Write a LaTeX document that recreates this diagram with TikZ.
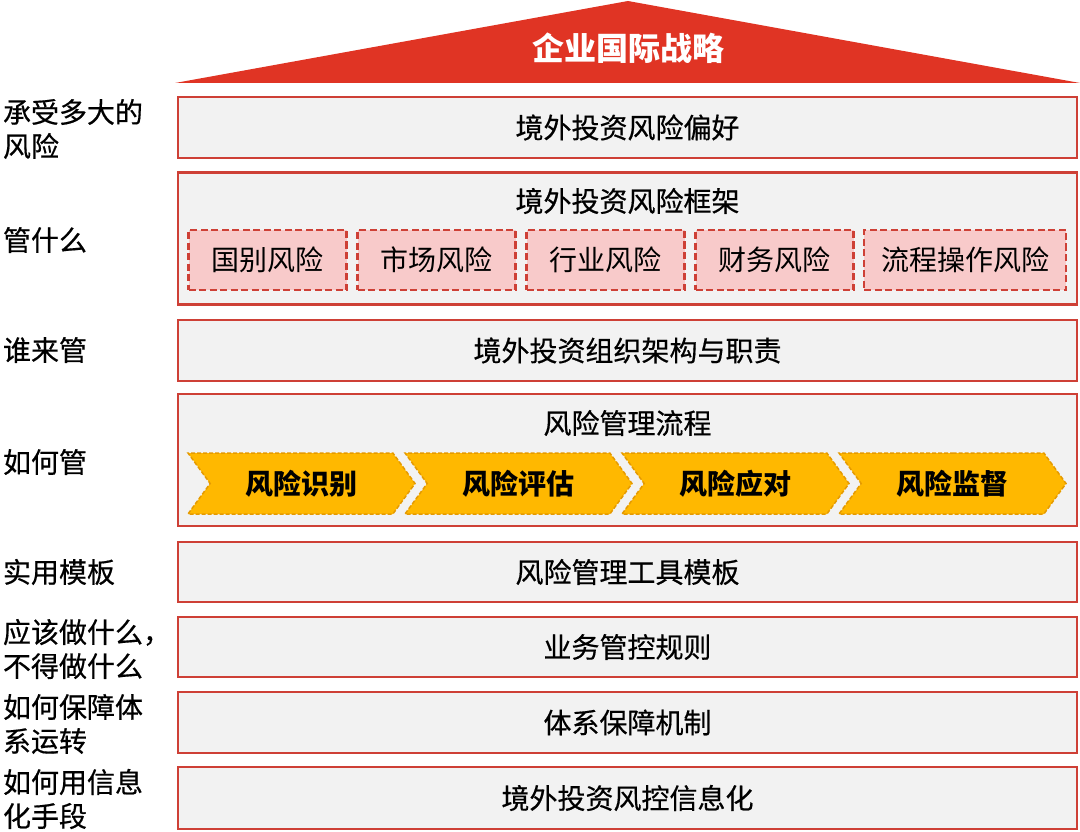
\documentclass[tikz,border=0pt]{standalone}
\usepackage{fontspec}
\setmainfont{Noto Sans CJK SC}
\newfontfamily\medfont[FakeBold=0.5]{Noto Sans CJK SC}
\usetikzlibrary{shapes.symbols}
\definecolor{redline}{HTML}{CE4036}
\definecolor{trired}{HTML}{E03424}
\definecolor{boxfill}{HTML}{F2F2F2}
\definecolor{pinkfill}{HTML}{F8CACA}
\definecolor{chevfill}{HTML}{FFB800}
\definecolor{chevline}{HTML}{E59A00}
\begin{document}
\begin{tikzpicture}[x=1pt,y=-1pt,
  every node/.style={inner sep=0pt, outer sep=0pt},
  txt/.style={font=\fontsize{28}{34}\selectfont, text=black},
  mtxt/.style={font=\fontsize{28}{34}\selectfont\medfont, text=black},
  rowbox/.style={draw=redline, line width=2.8pt, fill=boxfill, minimum width=899pt, mtxt},
  riskbox/.style={draw=redline, line width=2.3pt, fill=pinkfill, dash pattern=on 7pt off 3.5pt, minimum height=60pt, txt},
  chev/.style={signal, signal from=west, signal to=east, signal pointer angle=108, draw=chevline, line width=1.5pt, dash pattern=on 4pt off 2pt, fill=chevfill, minimum width=227pt, minimum height=61pt, font=\fontsize{28}{34}\selectfont\bfseries},
  sidelbl/.style={anchor=west, align=left, mtxt}
]
\useasboundingbox (0,0) rectangle (1080,832);
% roof
\fill[trired] (175,83) -- (628,1) -- (1080,83) -- cycle;
\node[font=\fontsize{32}{36}\selectfont\bfseries, text=white] (title) at (628,48) {企业国际战略};
% rows
\node[rowbox, minimum height=61pt] (r1) at (627.5,127.5) {境外投资风险偏好};
\node[rowbox, minimum height=132pt] (r2) at (627.5,238.5) {};
\node[mtxt] (r2t) at (627.5,201) {境外投资风险框架};
\node[riskbox, minimum width=158pt] (k1) at (267.5,260) {国别风险};
\node[riskbox, minimum width=158pt] (k2) at (436.5,260) {市场风险};
\node[riskbox, minimum width=158pt] (k3) at (605.5,260) {行业风险};
\node[riskbox, minimum width=158pt] (k4) at (774.5,260) {财务风险};
\node[riskbox, minimum width=202pt] (k5) at (965,260) {流程操作风险};
\node[rowbox, minimum height=61pt] (r3) at (627.5,350.5) {境外投资组织架构与职责};
\node[rowbox, minimum height=132pt] (r4) at (627.5,460) {};
\node[mtxt] (r4t) at (627.5,423) {风险管理流程};
\node[chev] (c1) at (301.5,483.5) {风险识别};
\node[chev] (c2) at (518.5,483.5) {风险评估};
\node[chev] (c3) at (735.5,483.5) {风险应对};
\node[chev] (c4) at (952.5,483.5) {风险监督};
\node[rowbox, minimum height=60pt] (r5) at (627.5,572) {风险管理工具模板};
\node[rowbox, minimum height=60pt] (r6) at (627.5,647) {业务管控规则};
\node[rowbox, minimum height=61pt] (r7) at (627.5,722.5) {体系保障机制};
\node[rowbox, minimum height=62pt] (r8) at (627.5,798) {境外投资风控信息化};
% side labels
\node[sidelbl] (s1) at (3,129) {承受多大的\\风险};
\node[sidelbl] (s2) at (3,240) {管什么};
\node[sidelbl] (s3) at (3,350) {谁来管};
\node[sidelbl] (s4) at (3,462) {如何管};
\node[sidelbl] (s5) at (3,572) {实用模板};
\node[sidelbl] (s6) at (3,649) {应该做什么，\\不得做什么};
\node[sidelbl] (s7) at (3,724) {如何保障体\\系运转};
\node[sidelbl] (s8) at (3,799) {如何用信息\\化手段};
\end{tikzpicture}
\end{document}
